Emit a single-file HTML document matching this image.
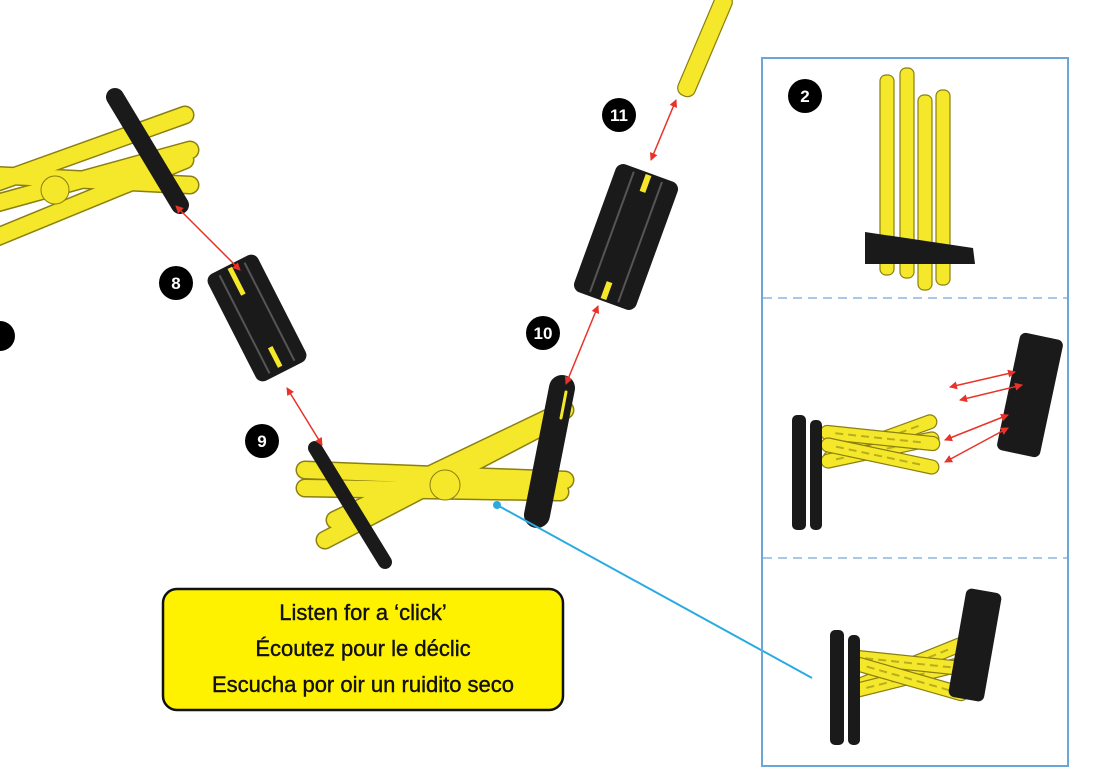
<!DOCTYPE html>
<html><head><meta charset="utf-8">
<style>
html,body{margin:0;padding:0;background:#fff;}
body{width:1100px;height:776px;overflow:hidden;}
svg{display:block;}
</style></head>
<body>
<svg width="1100" height="776" viewBox="0 0 1100 776" xmlns="http://www.w3.org/2000/svg">
<defs>
<marker id="ah" markerWidth="8" markerHeight="8" refX="7" refY="4" orient="auto" markerUnits="userSpaceOnUse">
<path d="M0,0 L8,4 L0,8 z" fill="#e8332a"/></marker>
<marker id="at" markerWidth="8" markerHeight="8" refX="1" refY="4" orient="auto" markerUnits="userSpaceOnUse">
<path d="M8,0 L0,4 L8,8 z" fill="#e8332a"/></marker>
<g id="ybar"><rect x="-60" y="-7" width="120" height="14" rx="7" fill="#f5e82a" stroke="#8a7f10" stroke-width="1.2"/>
<line x1="-45" y1="0" x2="45" y2="0" stroke="#b8ad20" stroke-width="2" stroke-dasharray="8 5"/></g>
</defs>

<!-- top-left assembly -->
<g stroke-linecap="round">
<g stroke="#8a7f10" stroke-width="19">
<line x1="-10" y1="185" x2="185" y2="115"/>
<line x1="-10" y1="205" x2="190" y2="150"/>
<line x1="-10" y1="175" x2="190" y2="185"/>
<line x1="-10" y1="240" x2="185" y2="160"/>
</g>
<g stroke="#f5e82a" stroke-width="16">
<line x1="-10" y1="185" x2="185" y2="115"/>
<line x1="-10" y1="205" x2="190" y2="150"/>
<line x1="-10" y1="175" x2="190" y2="185"/>
<line x1="-10" y1="240" x2="185" y2="160"/>
</g>
<circle cx="55" cy="190" r="14" fill="#f5e82a" stroke="#8a7f10"/>
<line x1="115" y1="97" x2="180" y2="205" stroke="#1a1a1a" stroke-width="18"/>
</g>

<!-- piece 8 -->
<g transform="translate(257,318) rotate(-27)">
<rect x="-28" y="-60" width="56" height="120" rx="8" fill="#1a1a1a"/>
<rect x="-4" y="-57" width="5" height="30" fill="#f5e82a"/>
<rect x="-4" y="32" width="5" height="22" fill="#f5e82a"/>
<g stroke="#555" stroke-width="2"><line x1="-14" y1="-55" x2="-14" y2="55"/><line x1="14" y1="-55" x2="14" y2="55"/></g>
</g>

<!-- piece 9/10 assembly -->
<g stroke-linecap="round">
<g stroke="#8a7f10" stroke-width="19">
<line x1="325" y1="540" x2="555" y2="420"/>
<line x1="335" y1="520" x2="565" y2="410"/>
<line x1="305" y1="470" x2="565" y2="480"/>
<line x1="305" y1="488" x2="560" y2="492"/>
</g>
<g stroke="#f5e82a" stroke-width="16">
<line x1="325" y1="540" x2="555" y2="420"/>
<line x1="335" y1="520" x2="565" y2="410"/>
<line x1="305" y1="470" x2="565" y2="480"/>
<line x1="305" y1="488" x2="560" y2="492"/>
</g>
<circle cx="445" cy="485" r="15" fill="#f5e82a" stroke="#8a7f10"/>
<line x1="315" y1="448" x2="385" y2="562" stroke="#1a1a1a" stroke-width="14"/>
<line x1="562" y1="388" x2="537" y2="515" stroke="#1a1a1a" stroke-width="26"/>
<line x1="566" y1="392" x2="561" y2="418" stroke="#f5e82a" stroke-width="3"/>
</g>

<!-- piece 11 -->
<g transform="translate(626,237) rotate(20)">
<rect x="-33" y="-68" width="66" height="136" rx="8" fill="#1a1a1a"/>
<rect x="-3" y="-66" width="6" height="18" fill="#f5e82a"/>
<rect x="-3" y="48" width="6" height="18" fill="#f5e82a"/>
<g stroke="#555" stroke-width="2"><line x1="-15" y1="-64" x2="-15" y2="64"/><line x1="15" y1="-64" x2="15" y2="64"/></g>
</g>
<!-- top stick -->
<g transform="translate(705,45) rotate(-67)"><rect x="-55" y="-9" width="110" height="18" rx="8" fill="#f5e82a" stroke="#8a7f10" stroke-width="1.2"/></g>

<!-- red arrows main -->
<g stroke="#e8332a" stroke-width="1.5" fill="none">
<line x1="176" y1="206" x2="240" y2="270" marker-end="url(#ah)" marker-start="url(#at)"/>
<line x1="287" y1="388" x2="322" y2="445" marker-end="url(#ah)" marker-start="url(#at)"/>
<line x1="566" y1="384" x2="598" y2="306" marker-end="url(#ah)" marker-start="url(#at)"/>
<line x1="651" y1="160" x2="676" y2="100" marker-end="url(#ah)" marker-start="url(#at)"/>
</g>

<!-- blue pointer -->
<line x1="497" y1="505" x2="812" y2="678" stroke="#29abe2" stroke-width="2"/>
<circle cx="497" cy="505" r="4" fill="#29abe2"/>

<!-- numbered circles -->
<g font-family="Liberation Sans, sans-serif" font-weight="bold" font-size="17" fill="#fff" text-anchor="middle">
<circle cx="0" cy="336" r="15" fill="#000"/>
<circle cx="176" cy="283" r="17" fill="#000"/><text x="176" y="289">8</text>
<circle cx="262" cy="441" r="17" fill="#000"/><text x="262" y="447">9</text>
<circle cx="543" cy="333" r="17" fill="#000"/><text x="543" y="339">10</text>
<circle cx="619" cy="115" r="17" fill="#000"/><text x="619" y="121">11</text>
<circle cx="805" cy="96" r="17" fill="#000"/><text x="805" y="102">2</text>
</g>

<!-- callout -->
<rect x="163" y="589" width="400" height="121" rx="14" fill="#fff200" stroke="#111" stroke-width="2.5"/>
<g font-family="Liberation Sans, sans-serif" font-size="22" fill="#111" stroke="#111" stroke-width="0.4" text-anchor="middle">
<text x="363" y="620">Listen for a ‘click’</text>
<text x="363" y="656">Écoutez pour le déclic</text>
<text x="363" y="692">Escucha por oir un ruidito seco</text>
</g>

<!-- panel -->
<rect x="762" y="58" width="306" height="708" fill="none" stroke="#6aa6d8" stroke-width="2"/>
<line x1="763" y1="298" x2="1067" y2="298" stroke="#a9c8e8" stroke-width="2" stroke-dasharray="9 6"/>
<line x1="763" y1="558" x2="1067" y2="558" stroke="#a9c8e8" stroke-width="2" stroke-dasharray="9 6"/>

<!-- panel 1 -->
<g fill="#f5e82a" stroke="#8a7f10" stroke-width="1.2">
<rect x="880" y="75" width="14" height="200" rx="6"/>
<rect x="900" y="68" width="14" height="210" rx="6"/>
<rect x="918" y="95" width="14" height="195" rx="6"/>
<rect x="936" y="90" width="14" height="195" rx="6"/>
</g>
<polygon points="865,232 973,248 975,264 865,264" fill="#1a1a1a"/>

<!-- panel 2 -->
<g transform="translate(880,440)">
<use href="#ybar" transform="rotate(-20)"/>
<use href="#ybar" transform="translate(0,10) rotate(-12)"/>
<use href="#ybar" transform="translate(0,-2) rotate(6)"/>
<use href="#ybar" transform="translate(0,16) rotate(12)"/>
</g>
<rect x="792" y="415" width="14" height="115" rx="5" fill="#1a1a1a"/>
<rect x="810" y="420" width="12" height="110" rx="5" fill="#1a1a1a"/>
<g transform="translate(1030,395) rotate(12)"><rect x="-22" y="-60" width="44" height="120" rx="6" fill="#1a1a1a"/></g>
<g stroke="#e8332a" stroke-width="1.5" fill="none">
<line x1="950" y1="387" x2="1015" y2="372" marker-end="url(#ah)" marker-start="url(#at)"/>
<line x1="960" y1="400" x2="1022" y2="385" marker-end="url(#ah)" marker-start="url(#at)"/>
<line x1="945" y1="440" x2="1008" y2="415" marker-end="url(#ah)" marker-start="url(#at)"/>
<line x1="945" y1="462" x2="1008" y2="428" marker-end="url(#ah)" marker-start="url(#at)"/>
</g>

<!-- panel 3 -->
<g transform="translate(910,665)">
<use href="#ybar" transform="rotate(-22)"/>
<use href="#ybar" transform="translate(0,12) rotate(-14)"/>
<use href="#ybar" transform="translate(0,-2) rotate(6)"/>
<use href="#ybar" transform="translate(0,14) rotate(16)"/>
</g>
<rect x="830" y="630" width="14" height="115" rx="5" fill="#1a1a1a"/>
<rect x="848" y="635" width="12" height="110" rx="5" fill="#1a1a1a"/>
<g transform="translate(975,645) rotate(10)"><rect x="-18" y="-55" width="36" height="110" rx="6" fill="#1a1a1a"/></g>
</svg>
</body></html>
